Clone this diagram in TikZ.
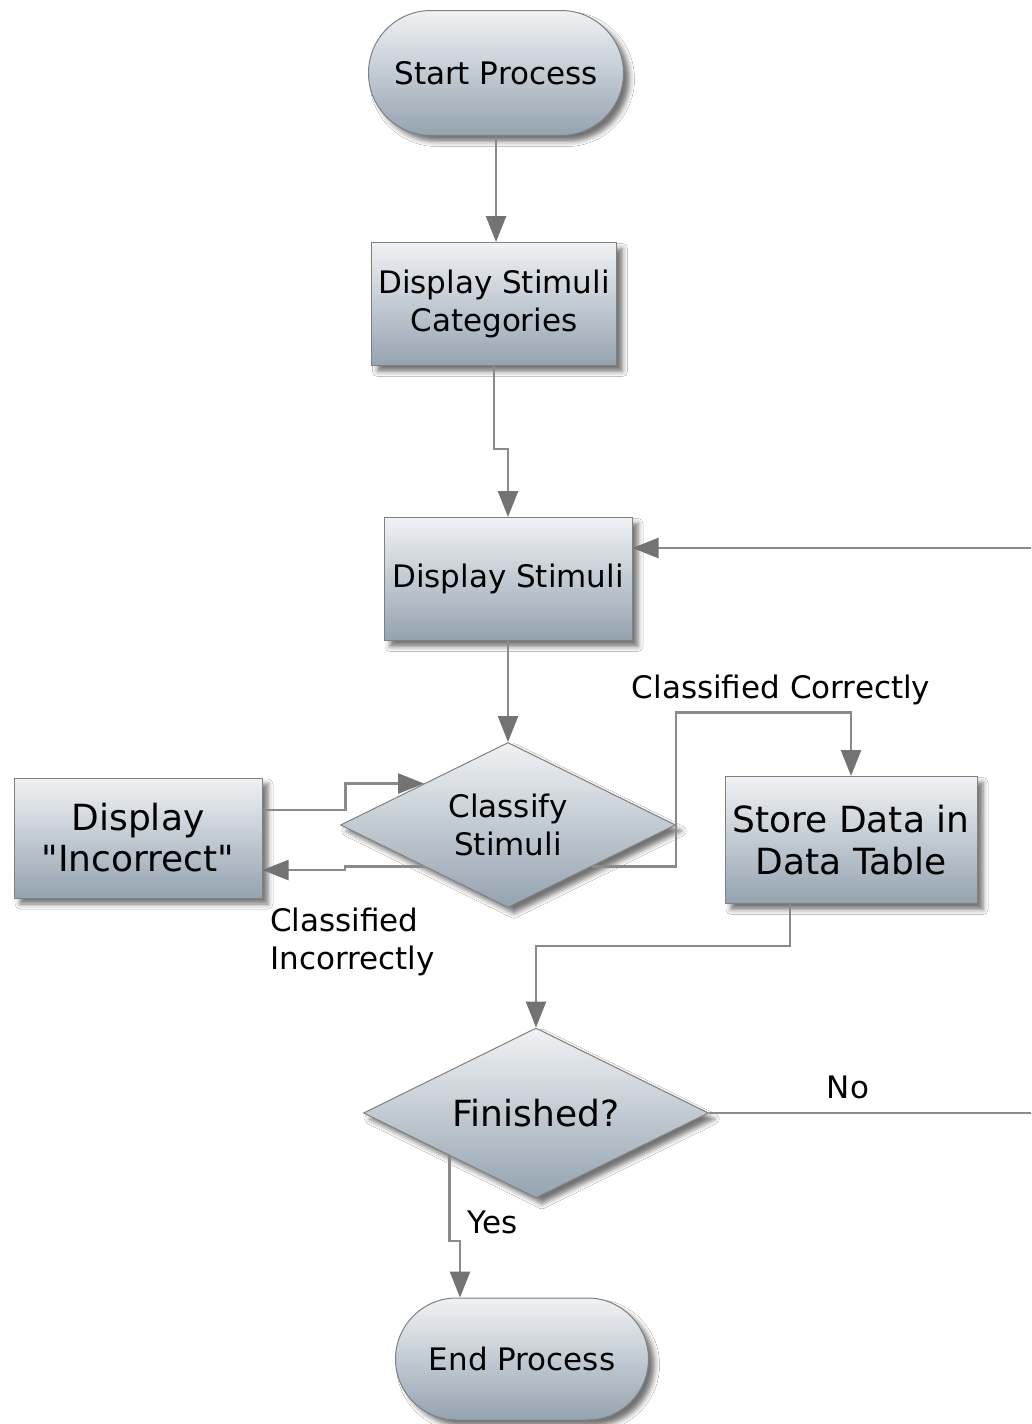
\documentclass[tikz,border=0pt]{standalone}
\usepackage{fontspec}
\setmainfont{DejaVu Sans}
\usetikzlibrary{arrows.meta,shapes.geometric,shapes.misc,shadows.blur}

\definecolor{cajaArriba}{RGB}{240,242,244}
\definecolor{cajaAbajo}{RGB}{148,163,176}
\definecolor{borde}{RGB}{128,128,128}
\definecolor{linea}{RGB}{138,138,138}
\definecolor{punta}{RGB}{115,115,115}

\tikzset{
  caja/.style={draw=borde, line width=1pt, top color=cajaArriba, bottom color=cajaAbajo,
    blur shadow={shadow xshift=6pt, shadow yshift=-6pt, shadow blur radius=5pt, shadow opacity=55},
    align=center, inner sep=0pt, font=\fontsize{31}{38}\selectfont},
  terminal/.style={caja, rounded rectangle, minimum width=255pt, minimum height=125pt},
  proceso/.style={caja, rectangle, minimum width=248pt, minimum height=123pt},
  decision/.style={caja, diamond, aspect=2},
  flujo/.style={->, draw=linea, line width=2.5pt},
  etiqueta/.style={align=left, inner sep=0pt, font=\fontsize{31}{38}\selectfont}
}

\begin{document}
\begin{tikzpicture}[x=1pt, y=-1pt, >={Triangle[length=26pt, width=20pt, color=punta]}]
  \useasboundingbox (0,0) rectangle (1031,1424);
  \fill[white] (0,0) rectangle (1031,1424);
  \clip (0,0) rectangle (1031,1424);
  % pasos
  \node[terminal] (inicio) at (496,73) {Start Process};
  \node[proceso, minimum width=245pt] (categorias) at (494,304) {Display Stimuli\\Categories};
  \node[proceso] (estimulo) at (508,579) {Display Stimuli};
  \node[decision, minimum width=335pt, minimum height=165pt] (clasificar) at (508,825) {Classify\\Stimuli};
  \node[proceso, minimum height=120pt, font=\fontsize{36}{41}\selectfont] (incorrecto) at (138,838) {Display\\\textquotedbl Incorrect\textquotedbl};
  \node[proceso, minimum width=252pt, minimum height=127pt, font=\fontsize{36}{42}\selectfont] (guardar) at (851,840) {Store Data in\\Data Table};
  \node[decision, minimum width=345pt, minimum height=170pt, font=\fontsize{36}{42}\selectfont] (terminado) at (536,1113) {Finished?};
  \node[terminal, minimum width=253pt, minimum height=122pt] (fin) at (522,1359) {End Process};
  % rotulos
  \node[etiqueta] (correcto) at (781,690) {Classified Correctly};
  \node[etiqueta, anchor=north west] (mal) at (270,908) {Classified\\Incorrectly};
  \node[etiqueta] (no) at (848,1087) {No};
  \node[etiqueta] (si) at (493,1222) {Yes};
  % flechas
  \coordinate (derecha) at (1045,1113);
  \draw[flujo] (inicio.south) -- (inicio.south |- categorias.north);
  \draw[flujo] (categorias.south) -- ++(0,83) -| (estimulo.north);
  \draw[flujo] (estimulo) -- (clasificar);
  \draw[flujo] (clasificar.south east) -| ++(84,-154) -| (guardar.north);
  \draw[flujo] (clasificar.south west) -- ++(-79,0) |- ([yshift=-32pt]incorrecto.east);
  \draw[flujo] ([yshift=28pt]incorrecto.east) -- ++(83,0) |- (clasificar.north west);
  \draw[flujo] ([xshift=-61pt]guardar.south) -- ++(0,42) -| (terminado.north);
  \draw[flujo] (terminado.south west) -- ++(0,85) -| ([xshift=-62pt]fin.north);
  % vuelta
  \draw[flujo] (terminado.east) -- (derecha) |- ([yshift=31pt]estimulo.east);
\end{tikzpicture}
\end{document}
